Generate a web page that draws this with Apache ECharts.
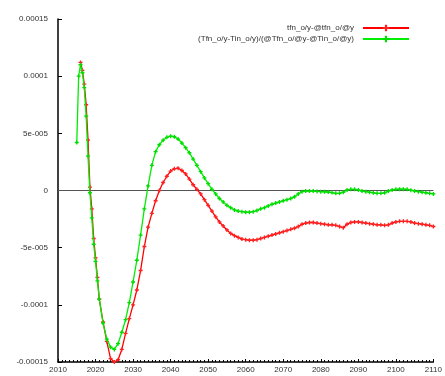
<!DOCTYPE html>
<html>
<head>
<meta charset="utf-8">
<script src="https://cdn.jsdelivr.net/npm/echarts@6/dist/echarts.min.js"></script>
<style>
  html, body { margin: 0; padding: 0; background: #fff; }
  #chart { width: 445px; height: 376px; }
</style>
</head>
<body>
<div id="chart"></div>
<script>
// Series names as shown in the legend
const redName = 'tfn_o/y-@tfn_o/@y';
const greenName = '(Tfn_o/y-Tin_o/y)/(@Tfn_o/@y-@Tin_o/@y)';

// Red series: years and values
const redYears = [2016, 2016.5, 2017, 2017.5, 2018, 2018.5, 2019, 2019.5, 2020, 2020.5,
  2021, 2022, 2023, 2024, 2025, 2026, 2027, 2028, 2029, 2030,
  2031, 2032, 2033, 2034, 2035, 2036, 2037, 2038, 2039, 2040,
  2041, 2042, 2043, 2044, 2045, 2046, 2047, 2048, 2049, 2050,
  2051, 2052, 2053, 2054, 2055, 2056, 2057, 2058, 2059, 2060,
  2061, 2062, 2063, 2064, 2065, 2066, 2067, 2068, 2069, 2070,
  2071, 2072, 2073, 2074, 2075, 2076, 2077, 2078, 2079, 2080,
  2081, 2082, 2083, 2084, 2085, 2086, 2087, 2088, 2089, 2090,
  2091, 2092, 2093, 2094, 2095, 2096, 2097, 2098, 2099, 2100,
  2101, 2102, 2103, 2104, 2105, 2106, 2107, 2108, 2109, 2110];
const redValues = [1.12e-4, 1.05e-4, 9.3e-5, 7.5e-5, 4.4e-5, 3e-6, -1.6e-5, -4.2e-5, -5.9e-5, -7.6e-5,
  -9.5e-5, -1.15e-4, -1.32e-4, -1.47e-4, -1.5e-4, -1.48e-4, -1.39e-4, -1.25e-4, -1.12e-4, -1.0e-4,
  -8.7e-5, -7.0e-5, -4.9e-5, -3.2e-5, -2.0e-5, -9e-6, 0, 7e-6, 1.25e-5, 1.7e-5,
  1.9e-5, 1.95e-5, 1.75e-5, 1.45e-5, 1.0e-5, 5e-6, 1e-6, -3e-6, -8e-6, -1.3e-5,
  -1.8e-5, -2.3e-5, -2.75e-5, -3.1e-5, -3.45e-5, -3.75e-5, -3.95e-5, -4.1e-5, -4.25e-5, -4.3e-5,
  -4.35e-5, -4.35e-5, -4.3e-5, -4.2e-5, -4.1e-5, -4.0e-5, -3.9e-5, -3.8e-5, -3.7e-5, -3.6e-5,
  -3.5e-5, -3.4e-5, -3.3e-5, -3.15e-5, -2.95e-5, -2.85e-5, -2.8e-5, -2.8e-5, -2.85e-5, -2.9e-5,
  -2.95e-5, -3.0e-5, -3.0e-5, -3.05e-5, -3.15e-5, -3.25e-5, -2.95e-5, -2.8e-5, -2.75e-5, -2.75e-5,
  -2.8e-5, -2.85e-5, -2.9e-5, -2.95e-5, -3.0e-5, -3.0e-5, -3.05e-5, -3.0e-5, -2.85e-5, -2.75e-5,
  -2.7e-5, -2.7e-5, -2.7e-5, -2.75e-5, -2.85e-5, -2.9e-5, -2.95e-5, -3.0e-5, -3.05e-5, -3.15e-5];

// Green series: years and values
const greenYears = [2015, 2015.5, 2016, 2016.5, 2017, 2017.5, 2018, 2018.5, 2019, 2019.5, 2020, 2020.5,
  2021, 2022, 2023, 2024, 2025, 2026, 2027, 2028, 2029, 2030,
  2031, 2032, 2033, 2034, 2035, 2036, 2037, 2038, 2039, 2040,
  2041, 2042, 2043, 2044, 2045, 2046, 2047, 2048, 2049, 2050,
  2051, 2052, 2053, 2054, 2055, 2056, 2057, 2058, 2059, 2060,
  2061, 2062, 2063, 2064, 2065, 2066, 2067, 2068, 2069, 2070,
  2071, 2072, 2073, 2074, 2075, 2076, 2077, 2078, 2079, 2080,
  2081, 2082, 2083, 2084, 2085, 2086, 2087, 2088, 2089, 2090,
  2091, 2092, 2093, 2094, 2095, 2096, 2097, 2098, 2099, 2100,
  2101, 2102, 2103, 2104, 2105, 2106, 2107, 2108, 2109, 2110];
const greenValues = [4.2e-5, 1.0e-4, 1.1e-4, 1.03e-4, 9e-5, 6.5e-5, 3e-5, -2e-6, -2.4e-5, -4.7e-5, -6.2e-5, -7.9e-5,
  -9.5e-5, -1.16e-4, -1.3e-4, -1.37e-4, -1.39e-4, -1.34e-4, -1.24e-4, -1.13e-4, -9.8e-5, -8.0e-5,
  -6.1e-5, -3.9e-5, -1.6e-5, 4e-6, 2.2e-5, 3.4e-5, 4.0e-5, 4.4e-5, 4.65e-5, 4.75e-5,
  4.7e-5, 4.5e-5, 4.15e-5, 3.75e-5, 3.3e-5, 2.75e-5, 2.2e-5, 1.65e-5, 1.1e-5, 6e-6,
  1e-6, -3e-6, -7e-6, -1.0e-5, -1.3e-5, -1.5e-5, -1.7e-5, -1.8e-5, -1.85e-5, -1.9e-5,
  -1.9e-5, -1.85e-5, -1.75e-5, -1.6e-5, -1.5e-5, -1.35e-5, -1.2e-5, -1.1e-5, -1.0e-5, -9e-6,
  -8e-6, -7e-6, -5.5e-6, -3e-6, -1e-6, -5e-7, -5e-7, -5e-7, -8e-7, -1e-6,
  -1.2e-6, -1.3e-6, -1.8e-6, -2.5e-6, -2.5e-6, -1.5e-6, 5e-7, 1e-6, 1e-6, 5e-7,
  -5e-7, -1e-6, -1.5e-6, -2e-6, -2.5e-6, -2.5e-6, -2e-6, -5e-7, 5e-7, 1e-6,
  1.2e-6, 1.2e-6, 1e-6, 3e-7, -5e-7, -1e-6, -1.5e-6, -2e-6, -2.5e-6, -3e-6];

// Tick labels on the value axis
const yTickLabels = {
  '0.00015': '0.00015', '0.0001': '0.0001', '0.00005': '5e-005', '0': '0',
  '-0.00005': '-5e-005', '-0.0001': '-0.0001', '-0.00015': '-0.00015'
};

const pair = (xs, ys) => xs.map((x, i) => [x, ys[i]]);
const plusMark = 'path://M-1,-3h2v2h2v2h-2v2h-2v-2h-2v-2h2z';
const textColor = '#333';
const font = 'Liberation Sans, Arial, sans-serif';

const chart = echarts.init(document.getElementById('chart'), null, { renderer: 'canvas' });
chart.setOption({
  animation: false,
  backgroundColor: '#fff',
  grid: { left: 58, right: 7, top: 19, bottom: 14, containLabel: false },
  legend: {
    orient: 'vertical',
    right: 30,
    top: 19,
    align: 'right',
    itemWidth: 46,
    itemHeight: 8,
    itemGap: 3,
    textStyle: { fontSize: 8, color: textColor, fontFamily: font, padding: [0, 4, 0, 0] },
    data: [redName, greenName]
  },
  xAxis: {
    type: 'value',
    min: 2010,
    max: 2110,
    interval: 10,
    axisLine: { show: true, onZero: false, lineStyle: { color: '#000', width: 1.5 } },
    axisTick: { show: true, inside: true, length: 3, lineStyle: { color: '#000' } },
    minorTick: { show: true, splitNumber: 10, length: 2, lineStyle: { color: '#000' } },
    splitLine: { show: false },
    axisLabel: {
      fontSize: 8, color: textColor, fontFamily: font, margin: 4,
      showMaxLabel: true, showMinLabel: true,
      formatter: v => String(v)
    }
  },
  yAxis: {
    type: 'value',
    min: -0.00015,
    max: 0.00015,
    interval: 0.00005,
    axisLine: { show: true, onZero: false, lineStyle: { color: '#000', width: 1.5 } },
    axisTick: { show: true, inside: true, length: 4, lineStyle: { color: '#000' } },
    splitLine: { show: false },
    axisLabel: {
      fontSize: 8, color: textColor, fontFamily: font, margin: 10,
      formatter: v => {
        const key = String(Math.round(v * 1e6) / 1e6);
        return yTickLabels[key] !== undefined ? yTickLabels[key] : key;
      }
    }
  },
  series: [
    {
      name: redName,
      type: 'line',
      data: pair(redYears, redValues),
      symbol: plusMark,
      symbolSize: 4,
      showSymbol: true,
      lineStyle: { color: '#ff0000', width: 1.3 },
      itemStyle: { color: '#ff2020' },
      z: 3
    },
    {
      name: greenName,
      type: 'line',
      data: pair(greenYears, greenValues),
      symbol: plusMark,
      symbolSize: 4,
      showSymbol: true,
      lineStyle: { color: '#00ee00', width: 1.3 },
      itemStyle: { color: '#00dd00' },
      z: 4,
      markLine: {
        silent: true,
        symbol: ['none', 'none'],
        label: { show: false },
        lineStyle: { color: '#555', width: 1, type: 'solid' },
        data: [{ yAxis: 0 }],
        z: 1
      }
    }
  ]
});
</script>
</body>
</html>
